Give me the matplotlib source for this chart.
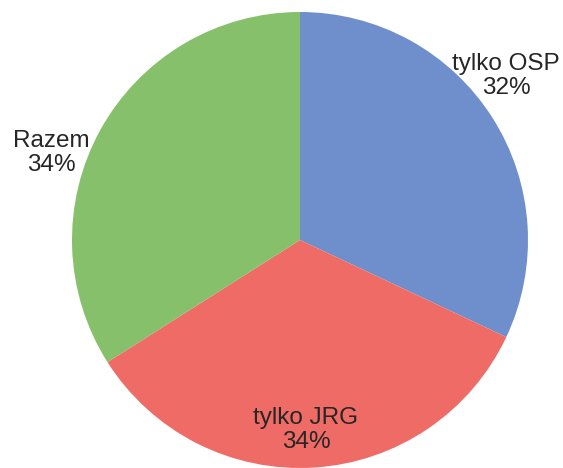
import matplotlib
matplotlib.use("Agg")
import matplotlib.pyplot as plt

categories = ["tylko OSP", "tylko JRG", "Razem"]
values = [32, 34, 34]
colors = ["#6f8fcc", "#ee6b66", "#86c06a"]

W, H = 563, 468
fig = plt.figure(figsize=(W / 100, H / 100), dpi=100)
ax = fig.add_axes([0, 0, 1, 1])

cx, cy, r = 300, H - 240, 228
ax.pie(values, colors=colors, startangle=90, counterclock=False,
       center=(cx, cy), radius=r, frame=True,
       wedgeprops=dict(linewidth=0))
ax.set_xlim(0, W)
ax.set_ylim(0, H)
ax.set_aspect("equal")
ax.axis("off")

label_pos = [(506, H - 76), (306, H - 430), (51, H - 153)]
for cat, v, (x, y) in zip(categories, values, label_pos):
    ax.text(x, y, f"{cat}\n{v}%", ha="center", va="center",
            fontsize=17.5, family="Liberation Sans", color="#262626",
            linespacing=1.08)

fig.savefig("out.png", dpi=100)
